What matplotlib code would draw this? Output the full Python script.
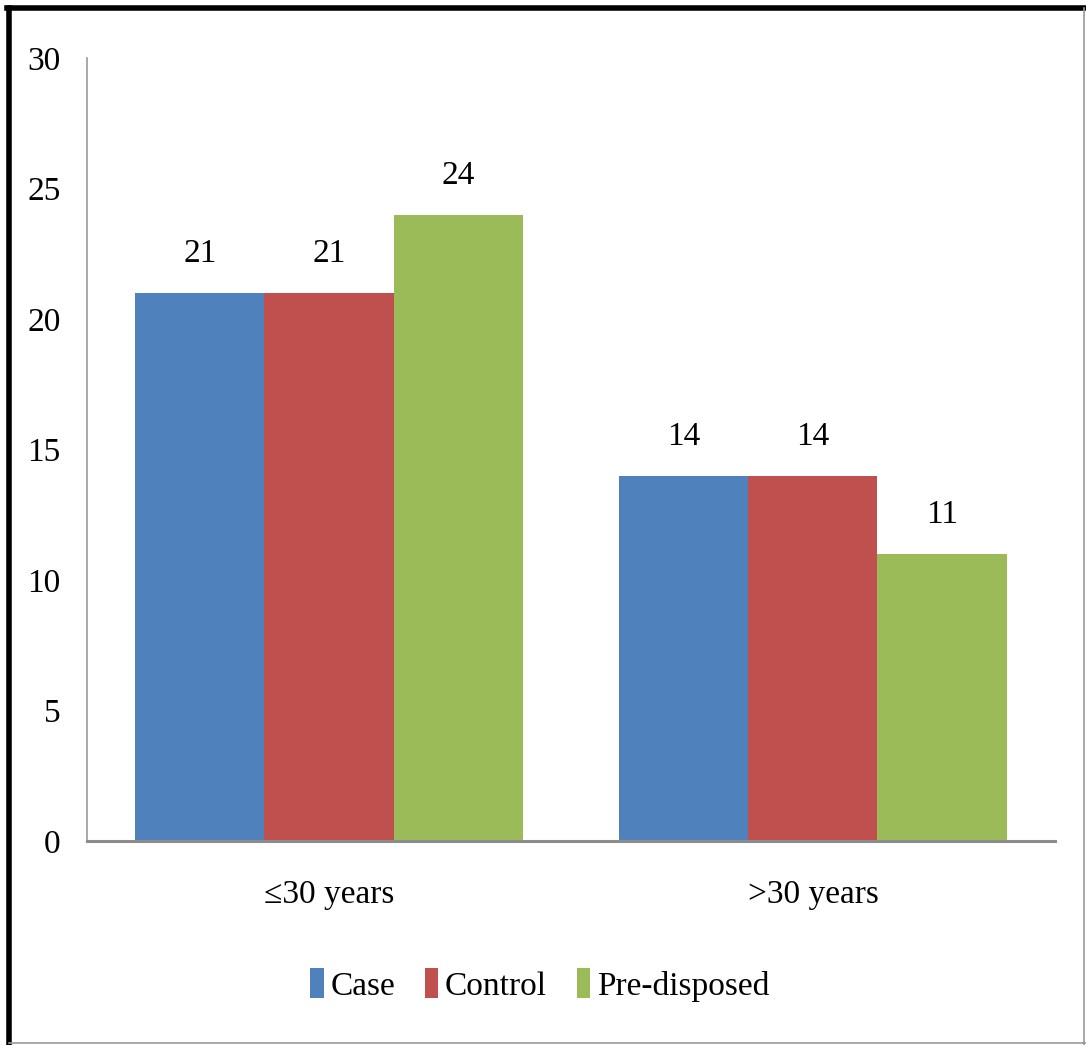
import matplotlib.pyplot as plt
from matplotlib.lines import Line2D

groups = ["\u226430 years", ">30 years"]
series = ["Case", "Control", "Pre-disposed"]
case = [21, 14]
control = [21, 14]
predisposed = [24, 11]
colors = ["#4F81BD", "#C0504D", "#9BBB59"]

plt.rcParams["font.family"] = ["Liberation Serif", "DejaVu Serif"]
fs = 24

fig = plt.figure(figsize=(10.86, 10.45), dpi=100)
ax = fig.add_axes([0.0801, 0.1952, 0.8913, 0.7493])

width = 0.8 / 3
xs = [0, 1]
for i, (vals, name) in enumerate(zip([case, control, predisposed], series)):
    pos = [x + (i - 1) * width for x in xs]
    bars = ax.bar(pos, vals, width, color=colors[i], label=name)
    for b, v in zip(bars, vals):
        ax.text(b.get_x() + b.get_width() / 2, v + 0.9, str(v),
                ha="center", va="bottom", fontsize=fs)

ax.set_xlim(-0.5, 1.5)
ax.set_ylim(0, 30)
ax.set_yticks(range(0, 31, 5))
ax.set_xticks(xs)
ax.set_xticklabels(groups)
ax.tick_params(axis="y", length=0, pad=19, labelsize=fs)
ax.tick_params(axis="x", length=0, pad=28, labelsize=fs)
for side in ["top", "right"]:
    ax.spines[side].set_visible(False)
ax.spines["left"].set_color("#999999")
ax.spines["left"].set_linewidth(1.2)
ax.spines["bottom"].set_color("#8c8c8c")
ax.spines["bottom"].set_linewidth(2.2)

fig.legend(loc="center", bbox_to_anchor=(0.497, 0.0574), ncol=3,
           frameon=False, fontsize=fs, handlelength=0.4, handleheight=1.0,
           handletextpad=0.2, columnspacing=0.9)

# frame round the figure: heavy on top/left, thin on bottom/right
fig.add_artist(Line2D([0.0085, 0.0085], [0.0, 0.992], color="black", lw=4))
fig.add_artist(Line2D([0.0065, 1.0], [0.992, 0.992], color="black", lw=4))
fig.add_artist(Line2D([0.998, 0.998], [0.0, 0.992], color="#999999", lw=1.2))
fig.add_artist(Line2D([0.0085, 1.0], [0.002, 0.002], color="#999999", lw=1.2))

fig.savefig("out.png", dpi=100)
